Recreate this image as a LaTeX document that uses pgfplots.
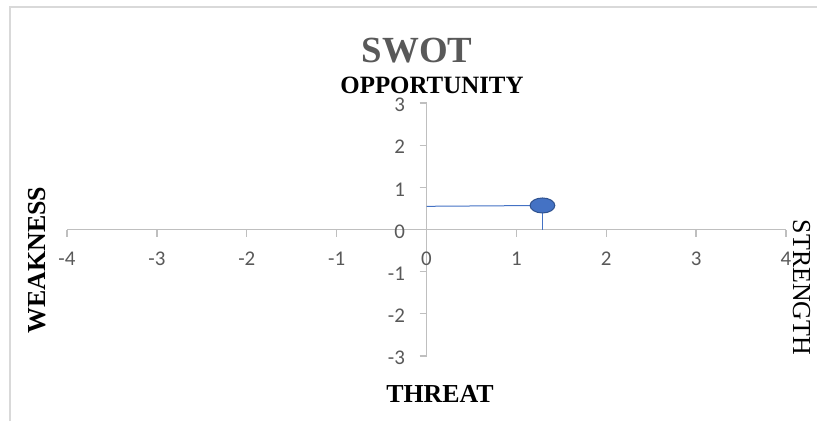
\documentclass[border=0pt]{standalone}
\usepackage{fontspec}
\setmainfont{Liberation Serif}
\newfontfamily\calibri{Carlito}
\usepackage{pgfplots}
\pgfplotsset{compat=1.18}
\definecolor{tickgray}{HTML}{595959}
\definecolor{axgray}{HTML}{BFBFBF}
\definecolor{framegray}{HTML}{D9D9D9}
\definecolor{ptblue}{HTML}{4472C4}
\definecolor{ptedge}{HTML}{2F528F}
\begin{document}
\begin{tikzpicture}[x=1bp,y=1bp]
\useasboundingbox (0,0) rectangle (817,421);
\draw[framegray, line width=1.2bp] (10,0) -- (10,414) -- (817,414);
\begin{axis}[
  at={(67bp,65bp)}, anchor=south west,
  scale only axis, width=719bp, height=253bp,
  xmin=-4, xmax=4, ymin=-3, ymax=3,
  axis lines=middle,
  axis line style={axgray, line width=1.3bp, -},
  hide obscured x ticks=false, hide obscured y ticks=false,
  xtick={-4,-3,-2,-1,0,1,2,3,4}, ytick={-3,-2,-1,0,1,2,3},
  tick style={axgray, line width=1.3bp},
  major tick length=7bp,
  tick align=outside,
  /pgf/number format/assume math mode=true,
  xticklabel style={font=\calibri\fontsize{21}{22}\selectfont, text=tickgray, anchor=north, yshift=-12bp},
  yticklabel style={font=\calibri\fontsize{21}{22}\selectfont, text=tickgray, anchor=east, xshift=-11bp, yshift=-2bp},
  clip=false,
]
\addplot[ptblue, line width=1bp, mark=none] coordinates {(0,0.55) (1.29,0.57)};
\addplot[ptblue, line width=1bp, mark=none] coordinates {(1.29,0) (1.29,0.57)};
\addplot[only marks, mark=*, mark size=7.5bp, mark options={xscale=1.65, fill=ptblue, draw=ptedge, line width=1bp}] coordinates {(1.29,0.57)};
\end{axis}
\node[anchor=base, text=tickgray, font=\bfseries\fontsize{37}{40}\selectfont] at (417,359) {SWOT};
\node[anchor=base, font=\bfseries\fontsize{25}{28}\selectfont] at (432,328) {OPPORTUNITY};
\node[anchor=base, font=\bfseries\fontsize{26}{28}\selectfont] at (440,19) {THREAT};
\node[anchor=base, rotate=90, font=\bfseries\fontsize{26}{28}\selectfont] at (45,161) {WEAKNESS};
\node[anchor=base, rotate=-90, font=\fontsize{26}{28}\selectfont] at (793,133.5) {STRENGTH};
\end{tikzpicture}
\end{document}
